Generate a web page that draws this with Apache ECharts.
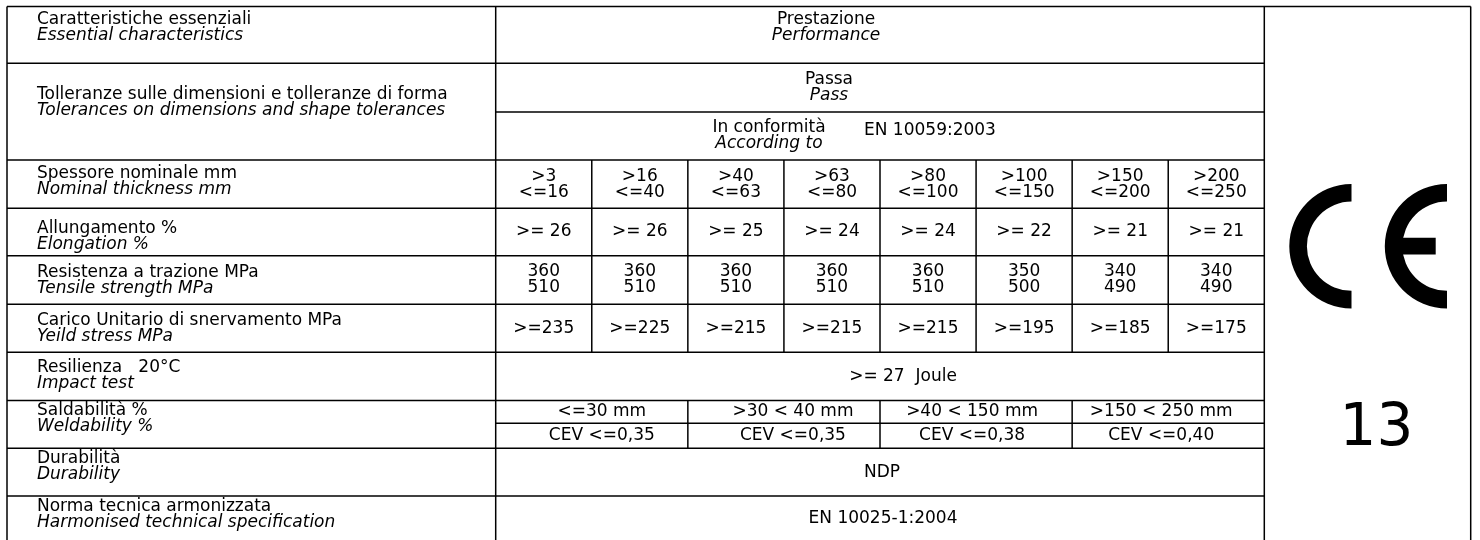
<!DOCTYPE html>
<html>
<head>
<meta charset="utf-8">
<script src="https://cdn.jsdelivr.net/npm/echarts@6/dist/echarts.min.js"></script>
<style>
  html, body { margin: 0; padding: 0; background: #fff; }
  #chart { width: 1480px; height: 540px; }
</style>
</head>
<body>
<div id="chart"></div>
<script>
// ---- table content ----
const charIt = ['Caratteristiche essenziali', 'Tolleranze sulle dimensioni e tolleranze di forma', 'Spessore nominale mm',
  'Allungamento %', 'Resistenza a trazione MPa', 'Carico Unitario di snervamento MPa', 'Resilienza   20°C',
  'Saldabilità %', 'Durabilità', 'Norma tecnica armonizzata'];
const charEn = ['Essential characteristics', 'Tolerances on dimensions and shape tolerances', 'Nominal thickness mm',
  'Elongation %', 'Tensile strength MPa', 'Yeild stress MPa', 'Impact test',
  'Weldability %', 'Durability', 'Harmonised technical specification'];
const thickMin = [3, 16, 40, 63, 80, 100, 150, 200];
const thickMax = [16, 40, 63, 80, 100, 150, 200, 250];
const elongation = [26, 26, 25, 24, 24, 22, 21, 21];
const tensileMin = [360, 360, 360, 360, 360, 350, 340, 340];
const tensileMax = [510, 510, 510, 510, 510, 500, 490, 490];
const yieldStress = [235, 225, 215, 215, 215, 195, 185, 175];
const weldRange = ['<=30 mm', '>30 < 40 mm', '>40 < 150 mm', '>150 < 250 mm'];
const cevMax = ['0,35', '0,35', '0,38', '0,40'];
const impactJoule = 27;
const toleranceStd = 'EN 10059:2003';
const harmonisedStd = 'EN 10025-1:2004';
const notifiedBody = '13';

// ---- layout (axis units = pixels) ----
const X0 = 7, X1 = 495.7, X2 = 1264.3, X3 = 1470.7;
const colW = (X2 - X1) / 8;
const rowEdges = [6.5, 63.3, 160, 208.3, 255.7, 304.3, 352.3, 400.5, 448.3, 496, 560];
const tolSplit = 112, weldSplit = 423.3;
const labelY = [20, 94.6, 174, 229, 273, 321, 368, 411, 459, 507];
const weldDx = [10, 9, -4, -7];
const LH = 16;
const FONT = 'DejaVu Sans';

const colCenter = i => X1 + colW * (i + 0.5);
const rowCenter = r => (rowEdges[r] + rowEdges[r + 1]) / 2;

// grid lines
const lines = [];
lines.push([X0, rowEdges[0], X3, rowEdges[0]]);
rowEdges.slice(1, -1).forEach(y => lines.push([X0, y, X2, y]));
lines.push([X1, tolSplit, X2, tolSplit]);
lines.push([X1, weldSplit, X2, weldSplit]);
[X0, X1, X2, X3].forEach(x => lines.push([x, rowEdges[0], x, rowEdges[rowEdges.length - 1]]));
for (let i = 1; i < 8; i++) lines.push([X1 + colW * i, rowEdges[2], X1 + colW * i, rowEdges[6]]);
for (let i = 2; i < 8; i += 2) lines.push([X1 + colW * i, rowEdges[7], X1 + colW * i, rowEdges[8]]);

// text items
const texts = [];
function add(x, y, text, opt) {
  texts.push(Object.assign({ x, y, text, italic: false, align: 'center', size: 17 }, opt || {}));
}
charIt.forEach((t, i) => {
  add(37, labelY[i], t, { align: 'left' });
  add(37, labelY[i] + LH, charEn[i], { align: 'left', italic: true });
});
add(826, labelY[0], 'Prestazione');
add(826, labelY[0] + LH, 'Performance', { italic: true });
add(829, (rowEdges[1] + tolSplit) / 2 - LH / 2, 'Passa');
add(829, (rowEdges[1] + tolSplit) / 2 + LH / 2, 'Pass', { italic: true });
add(769, (tolSplit + rowEdges[2]) / 2 - LH / 2, 'In conformità');
add(769, (tolSplit + rowEdges[2]) / 2 + LH / 2, 'According to', { italic: true });
add(864, (tolSplit + rowEdges[2]) / 2 - 5, toleranceStd, { align: 'left' });
for (let i = 0; i < 8; i++) {
  const cx = colCenter(i);
  add(cx, rowCenter(2) - LH / 2, '>' + thickMin[i]);
  add(cx, rowCenter(2) + LH / 2, '<=' + thickMax[i]);
  add(cx, rowCenter(3), '>= ' + elongation[i]);
  add(cx, rowCenter(4) - LH / 2, String(tensileMin[i]));
  add(cx, rowCenter(4) + LH / 2, String(tensileMax[i]));
  add(cx, rowCenter(5), '>=' + yieldStress[i]);
}
add(903, rowCenter(6), '>= ' + impactJoule + '  Joule');
for (let k = 0; k < 4; k++) {
  const cx = X1 + colW * (2 * k + 1) + weldDx[k];
  add(cx, (rowEdges[7] + weldSplit) / 2, weldRange[k]);
  add(cx, (weldSplit + rowEdges[8]) / 2, 'CEV <=' + cevMax[k]);
}
add(882, rowCenter(8), 'NDP');
add(883, 519, harmonisedStd);
add(1376.5, 430, notifiedBody, { size: 58 });

const chart = echarts.init(document.getElementById('chart'));
chart.setOption({
  animation: false,
  backgroundColor: '#fff',
  grid: { left: 0, right: 0, top: 0, bottom: 0 },
  xAxis: { type: 'value', min: 0, max: 1480, show: false },
  yAxis: { type: 'value', min: 0, max: 540, inverse: true, show: false },
  series: [
    {
      type: 'custom',
      silent: true,
      data: lines,
      encode: { x: [0, 2], y: [1, 3] },
      renderItem: (params, api) => {
        const a = api.coord([api.value(0), api.value(1)]);
        const b = api.coord([api.value(2), api.value(3)]);
        return {
          type: 'line',
          shape: { x1: a[0], y1: a[1], x2: b[0], y2: b[1] },
          style: { stroke: '#000', lineWidth: 1.5 }
        };
      }
    },
    {
      // CE marking: two half rings, the E with a middle bar
      type: 'custom',
      silent: true,
      data: [[1351.5, 246.2, 0], [1447, 246.2, 1]],
      renderItem: (params, api) => {
        const c = api.coord([api.value(0), api.value(1)]);
        const r = api.size([62.2, 0])[0];
        const r0 = api.size([44.6, 0])[0];
        const children = [{
          type: 'sector',
          shape: { cx: c[0], cy: c[1], r: r, r0: r0, startAngle: Math.PI / 2, endAngle: Math.PI * 1.5, clockwise: true },
          style: { fill: '#000' }
        }];
        if (api.value(2) === 1) {
          children.push({
            type: 'rect',
            shape: { x: c[0] - r0 - 1, y: c[1] - 8.4, width: r0 - 10.3, height: 16.8 },
            style: { fill: '#000' }
          });
        }
        return { type: 'group', children };
      }
    },
    {
      type: 'custom',
      silent: true,
      data: texts.map(t => [t.x, t.y]),
      renderItem: (params, api) => {
        const t = texts[params.dataIndex];
        const p = api.coord([api.value(0), api.value(1)]);
        return {
          type: 'text',
          style: {
            text: t.text, x: p[0], y: p[1],
            align: t.align, verticalAlign: 'middle',
            fontFamily: FONT, fontSize: t.size,
            fontStyle: t.italic ? 'italic' : 'normal',
            fill: '#000'
          }
        };
      }
    }
  ]
});
</script>
</body>
</html>
